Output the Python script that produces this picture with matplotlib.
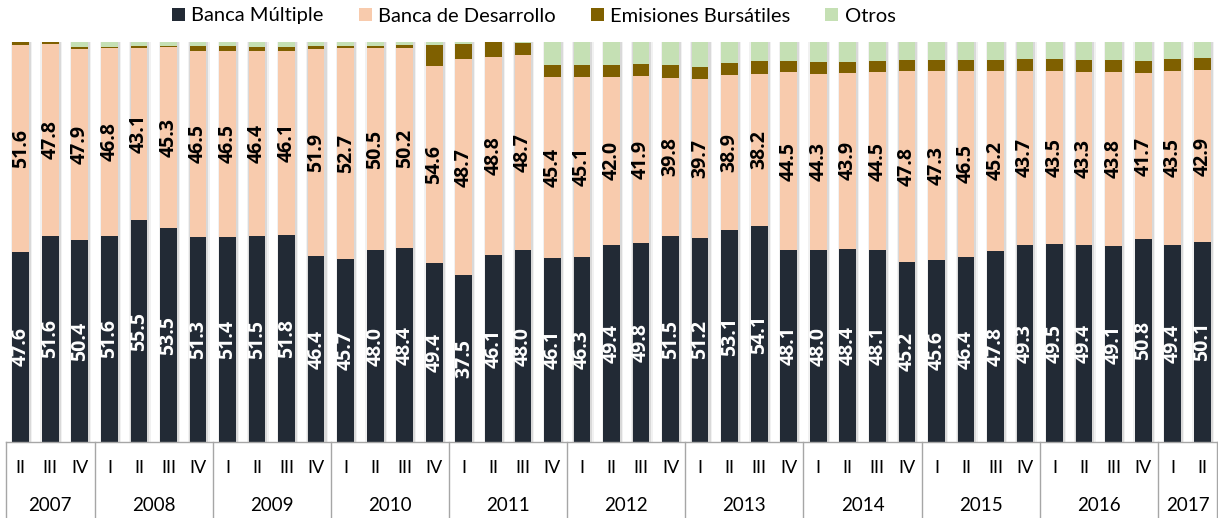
import matplotlib
matplotlib.use("Agg")
import matplotlib.pyplot as plt
import numpy as np
from matplotlib.patches import Patch

plt.rcParams['font.family'] = ['Lato', 'DejaVu Sans']

# etiquetas del eje de categorias
quarters = ['II', 'III', 'IV',
            'I', 'II', 'III', 'IV', 'I', 'II', 'III', 'IV', 'I', 'II', 'III', 'IV',
            'I', 'II', 'III', 'IV', 'I', 'II', 'III', 'IV', 'I', 'II', 'III', 'IV',
            'I', 'II', 'III', 'IV', 'I', 'II', 'III', 'IV', 'I', 'II', 'III', 'IV',
            'I', 'II']
years = ['2007', '2008', '2009', '2010', '2011', '2012', '2013', '2014', '2015', '2016', '2017']
year_n = [3, 4, 4, 4, 4, 4, 4, 4, 4, 4, 2]

# series (porcentaje)
banca_multiple = [47.6, 51.6, 50.4, 51.6, 55.5, 53.5, 51.3, 51.4, 51.5, 51.8, 46.4,
                  45.7, 48.0, 48.4, 49.4, 37.5, 46.1, 48.0, 46.1, 46.3, 49.4, 49.8,
                  51.5, 51.2, 53.1, 54.1, 48.1, 48.0, 48.4, 48.1, 45.2, 45.6, 46.4,
                  47.8, 49.3, 49.5, 49.4, 49.1, 50.8, 49.4, 50.1]
banca_desarrollo = [51.6, 47.8, 47.9, 46.8, 43.1, 45.3, 46.5, 46.5, 46.4, 46.1, 51.9,
                    52.7, 50.5, 50.2, 54.6, 48.7, 48.8, 48.7, 45.4, 45.1, 42.0, 41.9,
                    39.8, 39.7, 38.9, 38.2, 44.5, 44.3, 43.9, 44.5, 47.8, 47.3, 46.5,
                    45.2, 43.7, 43.5, 43.3, 43.8, 41.7, 43.5, 42.9]
emisiones = [0.8, 0.6, 0.4, 0.4, 0.35, 0.3, 1.2, 1.2, 0.85, 0.85, 0.7,
             0.7, 0.7, 0.7, 5.9, 3.4, 3.5, 3.1, 2.9, 2.9, 2.9, 3.0,
             3.1, 3.0, 3.1, 3.1, 2.9, 3.0, 2.8, 2.8, 2.8, 2.8, 2.8,
             2.8, 2.9, 2.9, 3.0, 3.0, 3.0, 3.0, 3.1]
otros = [0.0, 0.0, 1.3, 1.2, 1.1, 1.0, 1.0, 1.0, 1.3, 1.3, 1.0,
         0.9, 0.9, 0.75, 0.8, 0.45, 0.1, 0.25, 5.8, 5.8, 5.8, 5.5,
         5.8, 6.3, 5.2, 4.8, 4.7, 4.9, 5.0, 4.8, 4.5, 4.4, 4.4,
         4.4, 4.3, 4.3, 4.4, 4.4, 4.8, 4.2, 4.0]

names = ['Banca Múltiple', 'Banca de Desarrollo', 'Emisiones Bursátiles', 'Otros']
colors = ['#222a35', '#f8cbad', '#7f6000', '#c5e0b4']

raw = np.array([banca_multiple, banca_desarrollo, emisiones, otros])
total = raw.sum(axis=0)
pct = raw / total * 100  # columnas 100% apiladas

fig = plt.figure(figsize=(12.18, 5.18), dpi=100)
ax = fig.add_axes([6 / 1218, 76 / 518, 1211 / 1218, 400 / 518])

x = np.arange(len(quarters))
w = 0.565

# sombra de las barras
ax.bar(x + 0.03, pct.sum(axis=0), w + 0.16, color='#f1f1f1', zorder=1)
ax.bar(x + 0.03, pct.sum(axis=0), w + 0.08, color='#d9d9d9', zorder=1)

bottom = np.zeros(len(x))
for i in range(4):
    ax.bar(x, pct[i], w, bottom=bottom, color=colors[i], zorder=2)
    if i < 2:
        tc = 'white' if i == 0 else 'black'
        for xi, b, h, v in zip(x, bottom, pct[i], raw[i]):
            ax.text(xi, b + h / 2, f'{v:.1f}', rotation=90, ha='center', va='center',
                    fontsize=14, fontweight='bold', color=tc, zorder=3,
                    family=['Open Sans', 'DejaVu Sans'])
    bottom += pct[i]

ax.set_xlim(-0.5, len(x) - 0.5)
ax.set_ylim(0, 100)
ax.set_yticks([])
ax.set_xticks([])
for s in ['top', 'right', 'left']:
    ax.spines[s].set_visible(False)
ax.spines['bottom'].set_color('#a6a6a6')
ax.spines['bottom'].set_linewidth(1)

# eje de categorias con dos niveles
tr = ax.get_xaxis_transform()
for xi, q in zip(x, quarters):
    ax.text(xi, -0.066, q, transform=tr, ha='center', va='center', fontsize=13)
edge = -0.5
ax.plot([edge, edge], [0, -0.2], transform=tr, color='#a6a6a6', lw=1, clip_on=False)
for yr, n in zip(years, year_n):
    ax.text(edge + n / 2, -0.158, yr, transform=tr, ha='center', va='center', fontsize=13.5)
    edge += n
    ax.plot([edge, edge], [0, -0.2], transform=tr, color='#a6a6a6', lw=1, clip_on=False)

handles = [Patch(facecolor=c, label=n) for c, n in zip(colors, names)]
fig.legend(handles=handles, loc='center left', bbox_to_anchor=(172 / 1218, 1 - 16 / 518),
           ncol=4, frameon=False, fontsize=14.5, handlelength=0.65, handleheight=0.65,
           handletextpad=0.3, columnspacing=1.75, borderaxespad=0, borderpad=0)

fig.savefig('out.png', dpi=100)
